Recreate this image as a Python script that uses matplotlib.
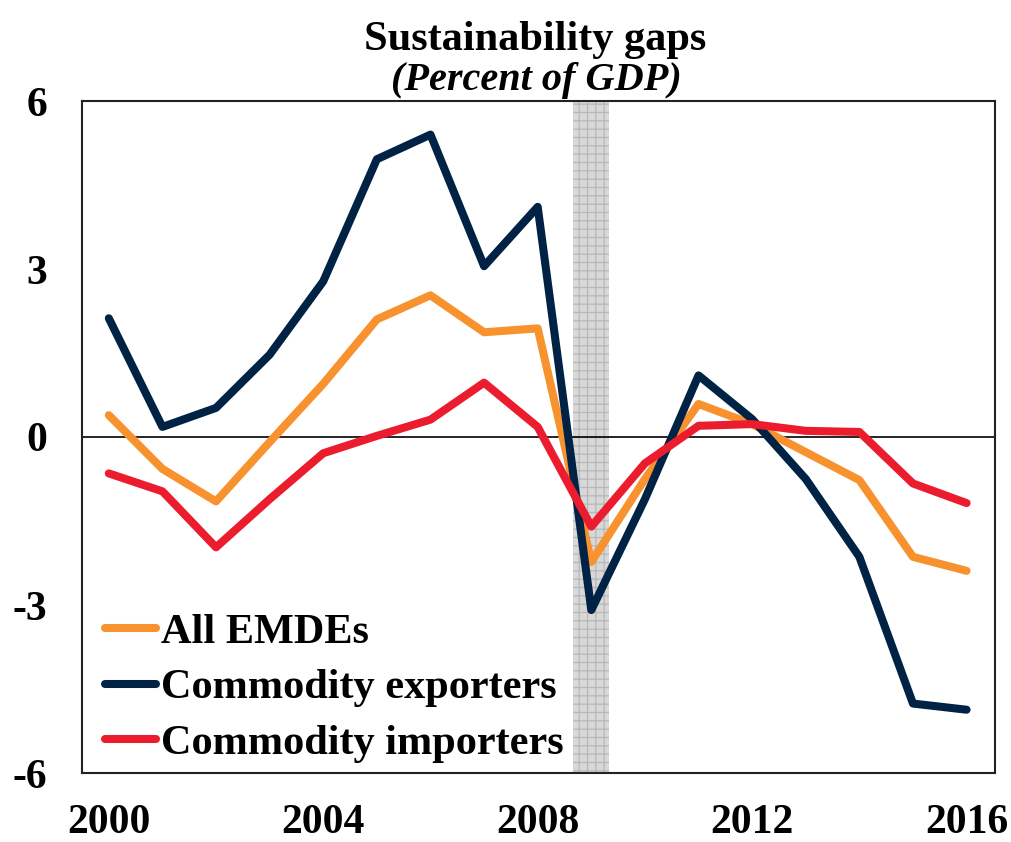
import matplotlib
matplotlib.use("Agg")
import matplotlib.pyplot as plt
import numpy as np

years = list(range(2000, 2017))
all_emdes = [0.39, -0.57, -1.15, -0.09, 0.95, 2.10, 2.53, 1.87, 1.94, -2.23, -0.75, 0.59, 0.23, -0.27, -0.77, -2.14, -2.39]
exporters = [2.12, 0.18, 0.52, 1.47, 2.78, 4.96, 5.40, 3.05, 4.11, -3.09, -1.11, 1.10, 0.32, -0.75, -2.14, -4.76, -4.87]
importers = [-0.65, -0.97, -1.97, -1.11, -0.29, 0.02, 0.31, 0.97, 0.18, -1.60, -0.47, 0.20, 0.23, 0.11, 0.09, -0.83, -1.18]
xticks = [2000, 2004, 2008, 2012, 2016]
yticks = [-6, -3, 0, 3, 6]
band = (2008.66, 2009.33)

plt.rcParams['font.family'] = ['Liberation Serif', 'DejaVu Serif']
plt.rcParams['font.weight'] = 'bold'
plt.rcParams['hatch.color'] = '#b8b8b8'
plt.rcParams['hatch.linewidth'] = 0.9

fig = plt.figure(figsize=(10.11, 8.42), dpi=100)
ax = fig.add_axes([82/1011, 1-773/842, (995-82)/1011, (773-101)/842])

ax.axvspan(band[0], band[1], facecolor='#d8d8d8', edgecolor='#b8b8b8', hatch='++', linewidth=0, zorder=1)
ax.axhline(0, color='black', lw=1.2, zorder=2)

lw = 5.8
kw = dict(lw=lw, solid_capstyle='round', solid_joinstyle='round')
ax.plot(years, all_emdes, color='#F7922E', label='All EMDEs', zorder=3, **kw)
ax.plot(years, exporters, color='#002345', label='Commodity exporters', zorder=4, **kw)
ax.plot(years, importers, color='#EB1C2D', label='Commodity importers', zorder=5, **kw)

ax.set_xlim(1999.5, 2016.53)
ax.set_ylim(-6, 6)
ax.set_xticks(xticks)
ax.set_xticklabels([str(x) for x in xticks])
ax.set_yticks(yticks)
ax.set_yticklabels([str(y) for y in yticks])
ax.tick_params(axis='both', length=0, labelsize=30)
ax.tick_params(axis='x', pad=22)
ax.tick_params(axis='y', pad=25)
for s in ax.spines.values():
    s.set_linewidth(1.5)
    s.set_color('#222222')

leg = ax.legend(loc='lower left', bbox_to_anchor=(0.0066, -0.01), frameon=False, fontsize=30.4,
                handlelength=1.2, handletextpad=0.12, labelspacing=0.40, borderaxespad=0)

fig.text(0.529, 1-50/842, 'Sustainability gaps', ha='center', va='baseline', fontsize=30.5, fontweight='bold')
fig.text(0.531, 1-90/842, '(Percent of GDP)', ha='center', va='baseline', fontsize=29, fontweight='bold', style='italic')

fig.savefig('out.png', dpi=100)
